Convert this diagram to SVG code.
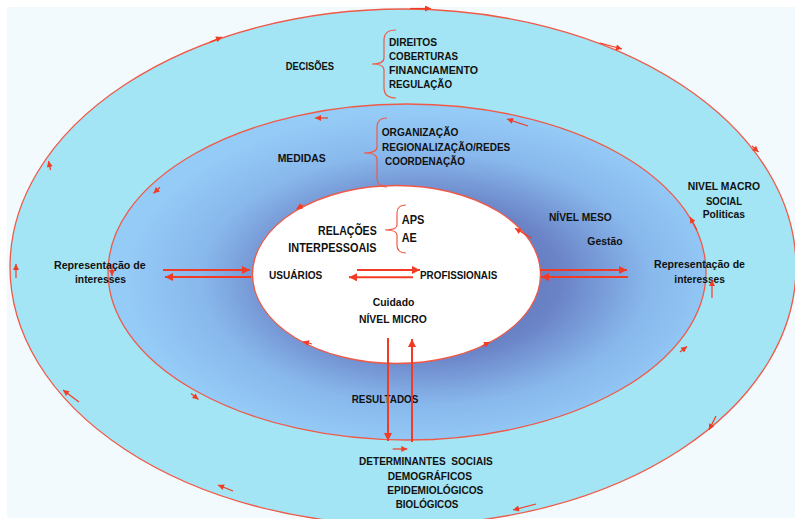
<svg xmlns="http://www.w3.org/2000/svg" width="795" height="519" viewBox="0 0 795 519">
<style>
.t{font-family:"Liberation Sans",Arial,sans-serif;font-weight:bold;font-size:11px;fill:#111111}
.ring{stroke:#ef5a48;stroke-width:1.3}
.br{fill:none;stroke:#ef5a48;stroke-width:1.2}
.big{fill:none;stroke:#f23b24;stroke-width:2;marker-end:url(#ah)}
.sm{fill:none;stroke:#f23b24;stroke-width:1.2;marker-end:url(#sh)}
</style>
<defs>
<radialGradient id="mid" cx="0.53" cy="0.52" r="0.5">
<stop offset="0" stop-color="#5a6cb6"/>
<stop offset="0.45" stop-color="#6a82c6"/>
<stop offset="0.75" stop-color="#88b8ec"/>
<stop offset="1" stop-color="#95cbf7"/>
</radialGradient>
<marker id="ah" viewBox="0 0 10 10" refX="10" refY="5" markerWidth="9" markerHeight="8" markerUnits="userSpaceOnUse" orient="auto"><path d="M0,0 L10,5 L0,10 z" fill="#f23b24"/></marker>
<marker id="sh" viewBox="0 0 10 10" refX="10" refY="5" markerWidth="7" markerHeight="6" markerUnits="userSpaceOnUse" orient="auto"><path d="M0,0 L10,5 L0,10 z" fill="#f23b24"/></marker>
</defs>
<rect x="0" y="0" width="795" height="519" fill="#ffffff"/>
<rect x="7" y="7" width="788" height="511" fill="#f2fafd"/>
<g id="macro">
<ellipse class="ring" cx="403" cy="267" rx="393" ry="258" fill="#a3e5f4"/>
</g>
<g id="meso">
<ellipse class="ring" cx="407" cy="272" rx="299" ry="168" fill="url(#mid)"/>
</g>
<g id="micro">
<ellipse class="ring" cx="396.5" cy="274.5" rx="144" ry="89" fill="#ffffff"/>
</g>
<g id="braces">
<path class="br" d="M396,30 Q384,30 384,40 L384,58 Q384,64 372,64 Q384,64 384,70 L384,88 Q384,98 396,98"/>
<path class="br" d="M387,118 Q377,118 377,127 L377,147 Q377,153 364,153 Q377,153 377,159 L377,178 Q377,187 387,187"/>
<path class="br" d="M406,205 Q397,205 397,213 L397,225 Q397,230 385,230 Q397,230 397,235 L397,245 Q397,253 406,253"/>
</g>
<g id="decisoes">
<text class="t" x="285.7" y="70" textLength="48.3" lengthAdjust="spacingAndGlyphs">DECISÕES</text>
<text class="t" x="389" y="46" textLength="48" lengthAdjust="spacingAndGlyphs">DIREITOS</text>
<text class="t" x="389" y="59.7" textLength="69" lengthAdjust="spacingAndGlyphs">COBERTURAS</text>
<text class="t" x="389" y="74.3" textLength="89" lengthAdjust="spacingAndGlyphs">FINANCIAMENTO</text>
<text class="t" x="389" y="88.3" textLength="63" lengthAdjust="spacingAndGlyphs">REGULAÇÃO</text>
</g>
<g id="medidas">
<text class="t" x="277.7" y="162" textLength="48" lengthAdjust="spacingAndGlyphs">MEDIDAS</text>
<text class="t" x="381.7" y="136" textLength="76.7" lengthAdjust="spacingAndGlyphs">ORGANIZAÇÃO</text>
<text class="t" x="382" y="150.7" textLength="128.3" lengthAdjust="spacingAndGlyphs">REGIONALIZAÇÃO/REDES</text>
<text class="t" x="385" y="165" textLength="80" lengthAdjust="spacingAndGlyphs">COORDENAÇÃO</text>
</g>
<g id="relacoes">
<text class="t" x="318" y="235.3" style="font-size:12.5px" textLength="58.7" lengthAdjust="spacingAndGlyphs">RELAÇÕES</text>
<text class="t" x="288.3" y="251.8" style="font-size:12.5px" textLength="88.3" lengthAdjust="spacingAndGlyphs">INTERPESSOAIS</text>
<text class="t" x="401.7" y="224" style="font-size:13.5px" textLength="22.7" lengthAdjust="spacingAndGlyphs">APS</text>
<text class="t" x="401.7" y="241.6" style="font-size:13.5px" textLength="15" lengthAdjust="spacingAndGlyphs">AE</text>
</g>
<g id="usuarios">
<text class="t" x="269" y="279" textLength="53.3" lengthAdjust="spacingAndGlyphs">USUÁRIOS</text>
</g>
<g id="profissionais">
<text class="t" x="420" y="279" textLength="77.3" lengthAdjust="spacingAndGlyphs">PROFISSIONAIS</text>
</g>
<g id="nivel-micro">
<text class="t" x="372.7" y="306.3" textLength="41.7" lengthAdjust="spacingAndGlyphs">Cuidado</text>
<text class="t" x="359" y="323" textLength="67.7" lengthAdjust="spacingAndGlyphs">NÍVEL MICRO</text>
</g>
<g id="rep-left">
<text class="t" x="54" y="269" textLength="91.7" lengthAdjust="spacingAndGlyphs">Representação de</text>
<text class="t" x="75" y="283.3" textLength="51" lengthAdjust="spacingAndGlyphs">interesses</text>
</g>
<g id="nivel-meso">
<text class="t" x="549" y="220.7" textLength="62.7" lengthAdjust="spacingAndGlyphs">NÍVEL MESO</text>
<text class="t" x="587.3" y="244.7" textLength="35.3" lengthAdjust="spacingAndGlyphs">Gestão</text>
</g>
<g id="nivel-macro">
<text class="t" x="687.7" y="190" textLength="72.3" lengthAdjust="spacingAndGlyphs">NIVEL MACRO</text>
<text class="t" x="706" y="204.7" textLength="36" lengthAdjust="spacingAndGlyphs">SOCIAL</text>
<text class="t" x="702.7" y="218.2" textLength="42.3" lengthAdjust="spacingAndGlyphs">Politicas</text>
</g>
<g id="rep-right">
<text class="t" x="654" y="268.3" textLength="91" lengthAdjust="spacingAndGlyphs">Representação de</text>
<text class="t" x="674.3" y="283" textLength="50.7" lengthAdjust="spacingAndGlyphs">interesses</text>
</g>
<g id="resultados">
<text class="t" x="351.7" y="403" textLength="66.7" lengthAdjust="spacingAndGlyphs">RESULTADOS</text>
</g>
<g id="determinantes">
<text class="t" x="359" y="465" textLength="133.7" lengthAdjust="spacingAndGlyphs" xml:space="preserve">DETERMINANTES  SOCIAIS</text>
<text class="t" x="387.7" y="479.7" textLength="84.3" lengthAdjust="spacingAndGlyphs">DEMOGRÁFICOS</text>
<text class="t" x="387.3" y="494" textLength="96" lengthAdjust="spacingAndGlyphs">EPIDEMIOLÓGICOS</text>
<text class="t" x="395.7" y="508" textLength="62.7" lengthAdjust="spacingAndGlyphs">BIOLÓGICOS</text>
</g>
<g id="connectors">
<path class="big" d="M163,270 L250,270"/>
<path class="big" d="M251,277 L165,277"/>
<path class="big" d="M357,270 L420,270"/>
<path class="big" d="M413,277.3 L349,277.3"/>
<path class="big" d="M540,270 L627,270"/>
<path class="big" d="M628,277 L541,277"/>
<path class="big" d="M388,338 L388,441"/>
<path class="big" d="M412,442 L412,339"/>
<path class="sm" d="M410,8.5 L431,8.5"/>
<path class="sm" d="M600,43 L622,49"/>
<path class="sm" d="M752,146 L758.5,152"/>
<path class="sm" d="M712,298 L712,280"/>
<path class="sm" d="M716,416 L709,430"/>
<path class="sm" d="M536,504 L513,510"/>
<path class="sm" d="M233,491 L218,485"/>
<path class="sm" d="M79,402 L63,390"/>
<path class="sm" d="M16,278 L16,264"/>
<path class="sm" d="M50.5,170 L48.5,161"/>
<path class="sm" d="M210,42 L222,37"/>
<path class="sm" d="M328,118 L315,118"/>
<path class="sm" d="M528,126 L507,119"/>
<path class="sm" d="M697,230 L690,217"/>
<path class="sm" d="M680,352 L687,346.5"/>
<path class="sm" d="M392.7,449 L407.3,449"/>
<path class="sm" d="M191,393.5 L198.5,399.5"/>
<path class="sm" d="M112,264 L112,276"/>
<path class="sm" d="M160,187.3 L153.5,193.3"/>
<path class="sm" d="M303,205 L296.5,209"/>
<path class="sm" d="M531.7,238.3 L515,228.3"/>
<path class="sm" d="M482,346 L490,342"/>
<path class="sm" d="M312,344 L303,341.5"/>
</g>
</svg>
